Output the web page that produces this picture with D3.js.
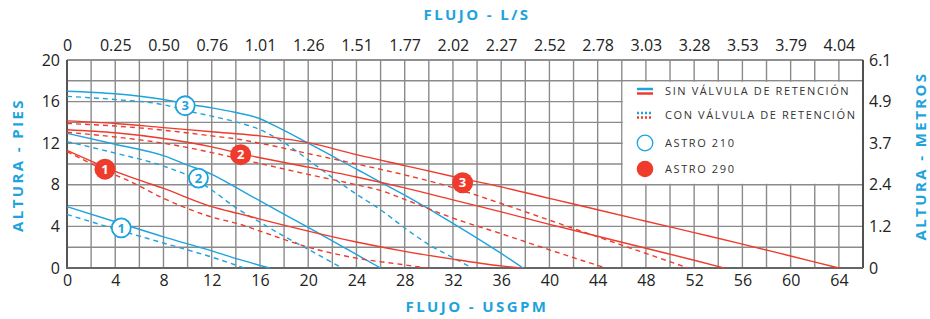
<!DOCTYPE html>
<html>
<head>
<meta charset="utf-8">
<script src="https://cdn.jsdelivr.net/npm/d3@7"></script>
<style>
  body { margin: 0; background: #fff; }
  svg { display: block; font-family: "Open Sans", sans-serif; }
</style>
</head>
<body>
<svg id="chart" width="930" height="319"></svg>
<script>
// flow ticks (USGPM) and the matching L/S labels on top
const gpmTicks = [0, 4, 8, 12, 16, 20, 24, 28, 32, 36, 40, 44, 48, 52, 56, 60, 64];
const lsLabels = ["0", "0.25", "0.50", "0.76", "1.01", "1.26", "1.51", "1.77", "2.02",
                  "2.27", "2.52", "2.78", "3.03", "3.28", "3.53", "3.79", "4.04"];
// head ticks (feet) and matching metre labels on the right
const ftTicks = [0, 4, 8, 12, 16, 20];
const mLabels = ["0", "1.2", "2.4", "3.7", "4.9", "6.1"];

// pump curves, [gpm, feet]
// Astro 210 (blue)
const a210sin1 = [[0,5.9],[4,4.45],[8,3.0],[12,1.65],[14.35,0.8],[16.8,0]];
const a210con1 = [[0,5.15],[4,3.75],[8,2.4],[12,1.05],[14.7,0]];
const a210sin2 = [[0,12.95],[4,11.9],[8,10.8],[10,9.9],[12,9.0],[14,7.75],[16,6.45],[20,3.9],[24,1.3],[26,0]];
const a210con2 = [[0,12.15],[4,11.05],[8,9.8],[10,8.9],[12,7.5],[14,5.8],[16,4.4],[18,3.05],[20,1.8],[22.8,0]];
const a210sin3 = [[0,17.0],[4,16.75],[8,16.2],[10,15.75],[12,15.4],[14,14.95],[16,14.35],[17,13.8],[20,12.0],[24,9.5],[28,7.0],[32,4.3],[36,1.4],[37.8,0]];
const a210con3 = [[0,16.5],[4,16.2],[8,15.7],[10,15.1],[12,14.6],[14,14.05],[16,13.3],[18,12.05],[20,10.4],[22,8.7],[24,7.1],[26,5.6],[28,3.85],[30,2.25],[32,1.0],[33.6,0]];
// Astro 290 (red)
const a290sin1 = [[0,11.3],[4,9.3],[6,8.45],[8,7.65],[12,5.9],[14.35,5.2],[16,4.7],[20,3.55],[24,2.5],[28,1.6],[32,0.85],[36,0.2],[37.6,0]];
const a290con1 = [[0,11.2],[4,8.95],[5,8.45],[8,6.7],[12,4.9],[14.35,4.2],[16,3.55],[20,2.0],[24,0.95],[28,0.3],[29.8,0]];
const a290sin2 = [[0,13.3],[4,13.0],[8,12.45],[12,11.65],[14.4,11.0],[16,10.6],[20,9.7],[24,8.75],[28,7.7],[32,6.55],[36,5.4],[40,4.2],[44,3.05],[48,1.9],[52,0.75],[54.5,0]];
const a290con2 = [[0,13.05],[4,12.6],[8,12.0],[12,11.1],[15.4,10.2],[20,9.0],[24,8.0],[26,7.45],[28,6.6],[32,4.8],[36,3.3],[40,1.75],[44,0.25],[44.7,0]];
const a290sin3 = [[0,14.15],[4,13.9],[8,13.5],[12,13.1],[16,12.7],[20,12.05],[24,10.9],[28,9.85],[32,8.8],[36,7.8],[40,6.7],[44,5.6],[48,4.5],[52,3.4],[56,2.3],[60,1.15],[64,0]];
const a290con3 = [[0,13.9],[4,13.65],[8,13.25],[12,12.7],[14.35,12.35],[16,12.0],[20,11.0],[24,10.0],[28,8.95],[31.2,8.0],[36,6.2],[40,4.6],[44,3.0],[48,1.4],[51.5,0]];

// number badges on the curves, [gpm, feet, label]
const a210badges = [[4.5,3.85,"1"],[10.9,8.65,"2"],[9.8,15.6,"3"]];
const a290badges = [[3.15,9.5,"1"],[14.4,10.9,"2"],[32.8,8.2,"3"]];

const legendItems = ["SIN VÁLVULA DE RETENCIÓN", "CON VÁLVULA DE RETENCIÓN", "ASTRO 210", "ASTRO 290"];

const blue = "#1ea3dd", red = "#ee3b2c";

const svg = d3.select("#chart");
const x = d3.scaleLinear().domain([0, 66]).range([67, 863]);
const y = d3.scaleLinear().domain([0, 20]).range([268, 60]);

// grid
const grid = svg.append("g").attr("stroke", "#8a8a8a").attr("stroke-width", 1.4);
grid.selectAll(".v").data(d3.range(0, 67, 2)).join("line")
  .attr("x1", d => x(d)).attr("x2", d => x(d)).attr("y1", y(0)).attr("y2", y(20));
grid.selectAll(".h").data(d3.range(0, 21, 2)).join("line")
  .attr("x1", x(0)).attr("x2", x(66)).attr("y1", d => y(d)).attr("y2", d => y(d));

// legend box covers the grid
svg.append("rect")
  .attr("x", x(46) + 1).attr("y", y(18) + 1)
  .attr("width", x(66) - x(46) - 2).attr("height", y(8) - y(18) - 2)
  .attr("fill", "#fff");

// frame
svg.append("line").attr("x1", x(0)).attr("x2", x(66)).attr("y1", y(20)).attr("y2", y(20))
  .attr("stroke", "#888").attr("stroke-width", 1.5);
svg.append("line").attr("x1", x(66)).attr("x2", x(66)).attr("y1", y(20)).attr("y2", y(0))
  .attr("stroke", "#333").attr("stroke-width", 1.5);
svg.append("line").attr("x1", x(0)).attr("x2", x(0)).attr("y1", y(20)).attr("y2", y(0))
  .attr("stroke", "#555").attr("stroke-width", 2);
svg.append("line").attr("x1", x(0) - 1).attr("x2", x(66)).attr("y1", y(0)).attr("y2", y(0))
  .attr("stroke", "#666").attr("stroke-width", 2);

// axes
function styleAxis(g) {
  g.select(".domain").remove();
  g.selectAll("text").attr("font-size", 16).attr("fill", "#222")
    .attr("font-family", "Open Sans, sans-serif");
}
svg.append("g").attr("transform", `translate(0,${y(0)})`)
  .call(d3.axisBottom(x).tickValues(gpmTicks).tickSize(0).tickPadding(7))
  .call(styleAxis);
svg.append("g").attr("transform", `translate(0,${y(20)})`)
  .call(d3.axisTop(x).tickValues(gpmTicks).tickSize(0).tickPadding(9)
    .tickFormat((d, i) => lsLabels[i]))
  .call(styleAxis);
svg.append("g").attr("transform", `translate(${x(0)},0)`)
  .call(d3.axisLeft(y).tickValues(ftTicks).tickSize(0).tickPadding(7))
  .call(styleAxis);
svg.append("g").attr("transform", `translate(${x(66)},0)`)
  .call(d3.axisRight(y).tickValues(ftTicks).tickSize(0).tickPadding(6)
    .tickFormat((d, i) => mLabels[i]))
  .call(styleAxis);

// axis titles
const titleStyle = sel => sel.attr("fill", blue).attr("font-size", 15).attr("font-weight", 700)
  .attr("letter-spacing", 2.4).attr("text-anchor", "middle");
svg.append("text").attr("x", 477).attr("y", 20).text("FLUJO - L/S").call(titleStyle);
svg.append("text").attr("x", 477).attr("y", 312).text("FLUJO - USGPM").call(titleStyle);
svg.append("text").attr("transform", "translate(23,165) rotate(-90)").text("ALTURA - PIES").call(titleStyle);
svg.append("text").attr("transform", "translate(926,156) rotate(-90)").text("ALTURA - METROS").call(titleStyle);

// curves
const line = d3.line().x(d => x(d[0])).y(d => y(d[1])).curve(d3.curveMonotoneX);
const curves = [
  [a210sin1, blue, false], [a210con1, blue, true],
  [a210sin2, blue, false], [a210con2, blue, true],
  [a210sin3, blue, false], [a210con3, blue, true],
  [a290sin1, red, false], [a290con1, red, true],
  [a290sin2, red, false], [a290con2, red, true],
  [a290sin3, red, false], [a290con3, red, true]
];
svg.append("g").selectAll("path").data(curves).join("path")
  .attr("d", d => line(d[0]))
  .attr("fill", "none")
  .attr("stroke", d => d[1])
  .attr("stroke-width", 1.4)
  .attr("stroke-dasharray", d => d[2] ? "5,4" : null);

// badges
const b210 = svg.append("g").selectAll("g").data(a210badges).join("g")
  .attr("transform", d => `translate(${x(d[0])},${y(d[1])})`);
b210.append("circle").attr("r", 9.5).attr("fill", "#fff").attr("stroke", blue).attr("stroke-width", 1.8);
b210.append("text").text(d => d[2]).attr("text-anchor", "middle").attr("dy", "0.36em")
  .attr("font-size", 13).attr("font-weight", 700).attr("fill", blue);

const b290 = svg.append("g").selectAll("g").data(a290badges).join("g")
  .attr("transform", d => `translate(${x(d[0])},${y(d[1])})`);
b290.append("circle").attr("r", 10.5).attr("fill", red);
b290.append("text").text(d => d[2]).attr("text-anchor", "middle").attr("dy", "0.36em")
  .attr("font-size", 13).attr("font-weight", 700).attr("fill", "#fff");

// legend
const lg = svg.append("g");
const rowY = [91, 115, 143, 169];
const sx = 637, sw = 16;
lg.append("line").attr("x1", sx).attr("x2", sx + sw).attr("y1", rowY[0] - 2).attr("y2", rowY[0] - 2)
  .attr("stroke", blue).attr("stroke-width", 2.5);
lg.append("line").attr("x1", sx).attr("x2", sx + sw).attr("y1", rowY[0] + 2.5).attr("y2", rowY[0] + 2.5)
  .attr("stroke", red).attr("stroke-width", 2.5);
lg.append("line").attr("x1", sx).attr("x2", sx + sw).attr("y1", rowY[1] - 2).attr("y2", rowY[1] - 2)
  .attr("stroke", blue).attr("stroke-width", 2.5).attr("stroke-dasharray", "2,2");
lg.append("line").attr("x1", sx).attr("x2", sx + sw).attr("y1", rowY[1] + 2.5).attr("y2", rowY[1] + 2.5)
  .attr("stroke", red).attr("stroke-width", 2.5).attr("stroke-dasharray", "2,2");
lg.append("circle").attr("cx", sx + sw / 2).attr("cy", rowY[2]).attr("r", 7.8)
  .attr("fill", "#fff").attr("stroke", blue).attr("stroke-width", 1.3);
lg.append("circle").attr("cx", sx + sw / 2).attr("cy", rowY[3]).attr("r", 8.3).attr("fill", red);
lg.selectAll("text").data(legendItems).join("text")
  .attr("x", 665).attr("y", (d, i) => rowY[i]).attr("dy", "0.35em")
  .attr("font-size", 11).attr("letter-spacing", 1.6).attr("fill", "#333")
  .text(d => d);
</script>
</body>
</html>
